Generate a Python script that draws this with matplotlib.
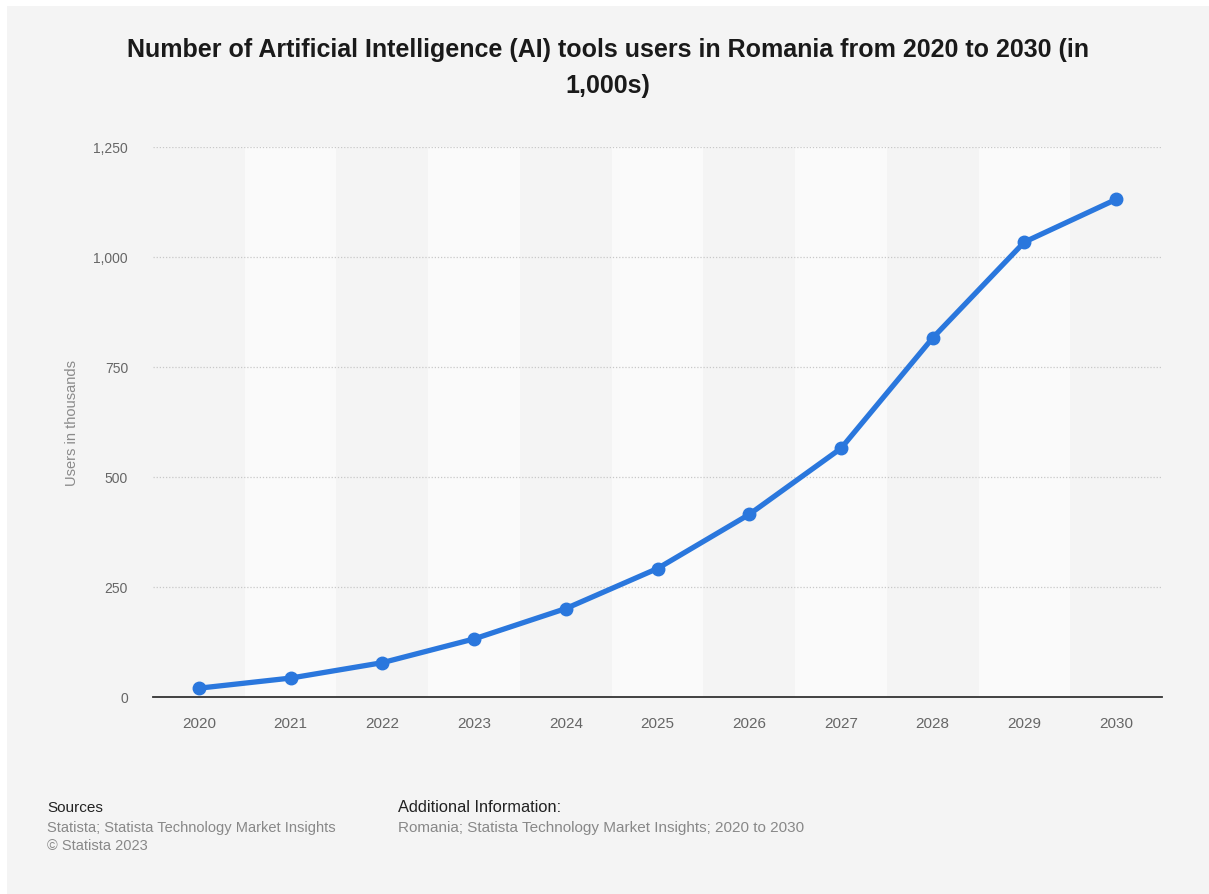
import matplotlib.pyplot as plt
from matplotlib.patches import Rectangle

years = ["2020", "2021", "2022", "2023", "2024", "2025",
         "2026", "2027", "2028", "2029", "2030"]
users = [20, 43, 78, 132, 201, 292, 415, 565, 816, 1034, 1131]
y_ticks = [0, 250, 500, 750, 1000, 1250]
y_tick_labels = ["0", "250", "500", "750", "1,000", "1,250"]

plt.rcParams["font.family"] = ["Liberation Sans", "DejaVu Sans"]

W, H = 1209, 895
fig = plt.figure(figsize=(W / 100, H / 100), dpi=100)
fig.patch.set_facecolor("white")

# grey panel behind everything
fig.patches.append(Rectangle((7 / W, 0), 1 - 7 / W, 1 - 7 / H,
                             transform=fig.transFigure, facecolor="#f4f4f4",
                             edgecolor="none", zorder=-10))

ax = fig.add_axes([153 / W, 1 - 698 / H, (1162 - 153) / W, (698 - 148) / H])
ax.set_facecolor("none")

x = list(range(len(years)))

# alternating column bands
for i in x:
    if i % 2 == 1:
        ax.axvspan(i - 0.5, i + 0.5, color="#fafafa", zorder=0, lw=0)

# dotted grid
for t in y_ticks[1:]:
    ax.axhline(t, color="#c8c8c8", lw=0.9, ls=(0, (1, 1.5)), zorder=1)

ax.plot(x, users, color="#2a77dd", lw=3.8, marker="o", markersize=9,
        solid_capstyle="round", zorder=3, clip_on=False)

ax.set_xlim(-0.5, len(years) - 0.5)
ax.set_ylim(0, 1250)
ax.set_xticks(x)
ax.set_xticklabels(years, fontsize=11, color="#666666")
ax.set_yticks(y_ticks)
ax.set_yticklabels(y_tick_labels, fontsize=10, color="#666666")
ax.tick_params(axis="both", length=0)
ax.tick_params(axis="x", pad=14)
ax.tick_params(axis="y", pad=18)

for side in ["top", "right", "left"]:
    ax.spines[side].set_visible(False)
ax.spines["bottom"].set_color("#333333")
ax.spines["bottom"].set_linewidth(1.3)
ax.spines["bottom"].set_zorder(2)

ax.set_ylabel("Users in thousands", fontsize=10.5, color="#8a8a8a", labelpad=10)

title_kw = dict(ha="center", va="center", fontsize=18, fontweight="bold",
                color="#1a1a1a")
fig.text(608 / W, 1 - 50 / H,
         "Number of Artificial Intelligence (AI) tools users in Romania from 2020 to 2030 (in",
         **title_kw)
fig.text(608 / W, 1 - 86 / H, "1,000s)", **title_kw)

fig.text(47 / W, 1 - 808 / H, "Sources", fontsize=11, color="#222222", va="center")
fig.text(47 / W, 1 - 828 / H, "Statista; Statista Technology Market Insights",
         fontsize=10.5, color="#888888", va="center")
fig.text(47 / W, 1 - 846 / H, "\u00a9 Statista 2023",
         fontsize=10.5, color="#888888", va="center")
fig.text(398 / W, 1 - 808 / H, "Additional Information:", fontsize=11.8,
         color="#222222", va="center")
fig.text(398 / W, 1 - 828 / H,
         "Romania; Statista Technology Market Insights; 2020 to 2030",
         fontsize=11, color="#888888", va="center")

fig.savefig("out.png", dpi=100)
